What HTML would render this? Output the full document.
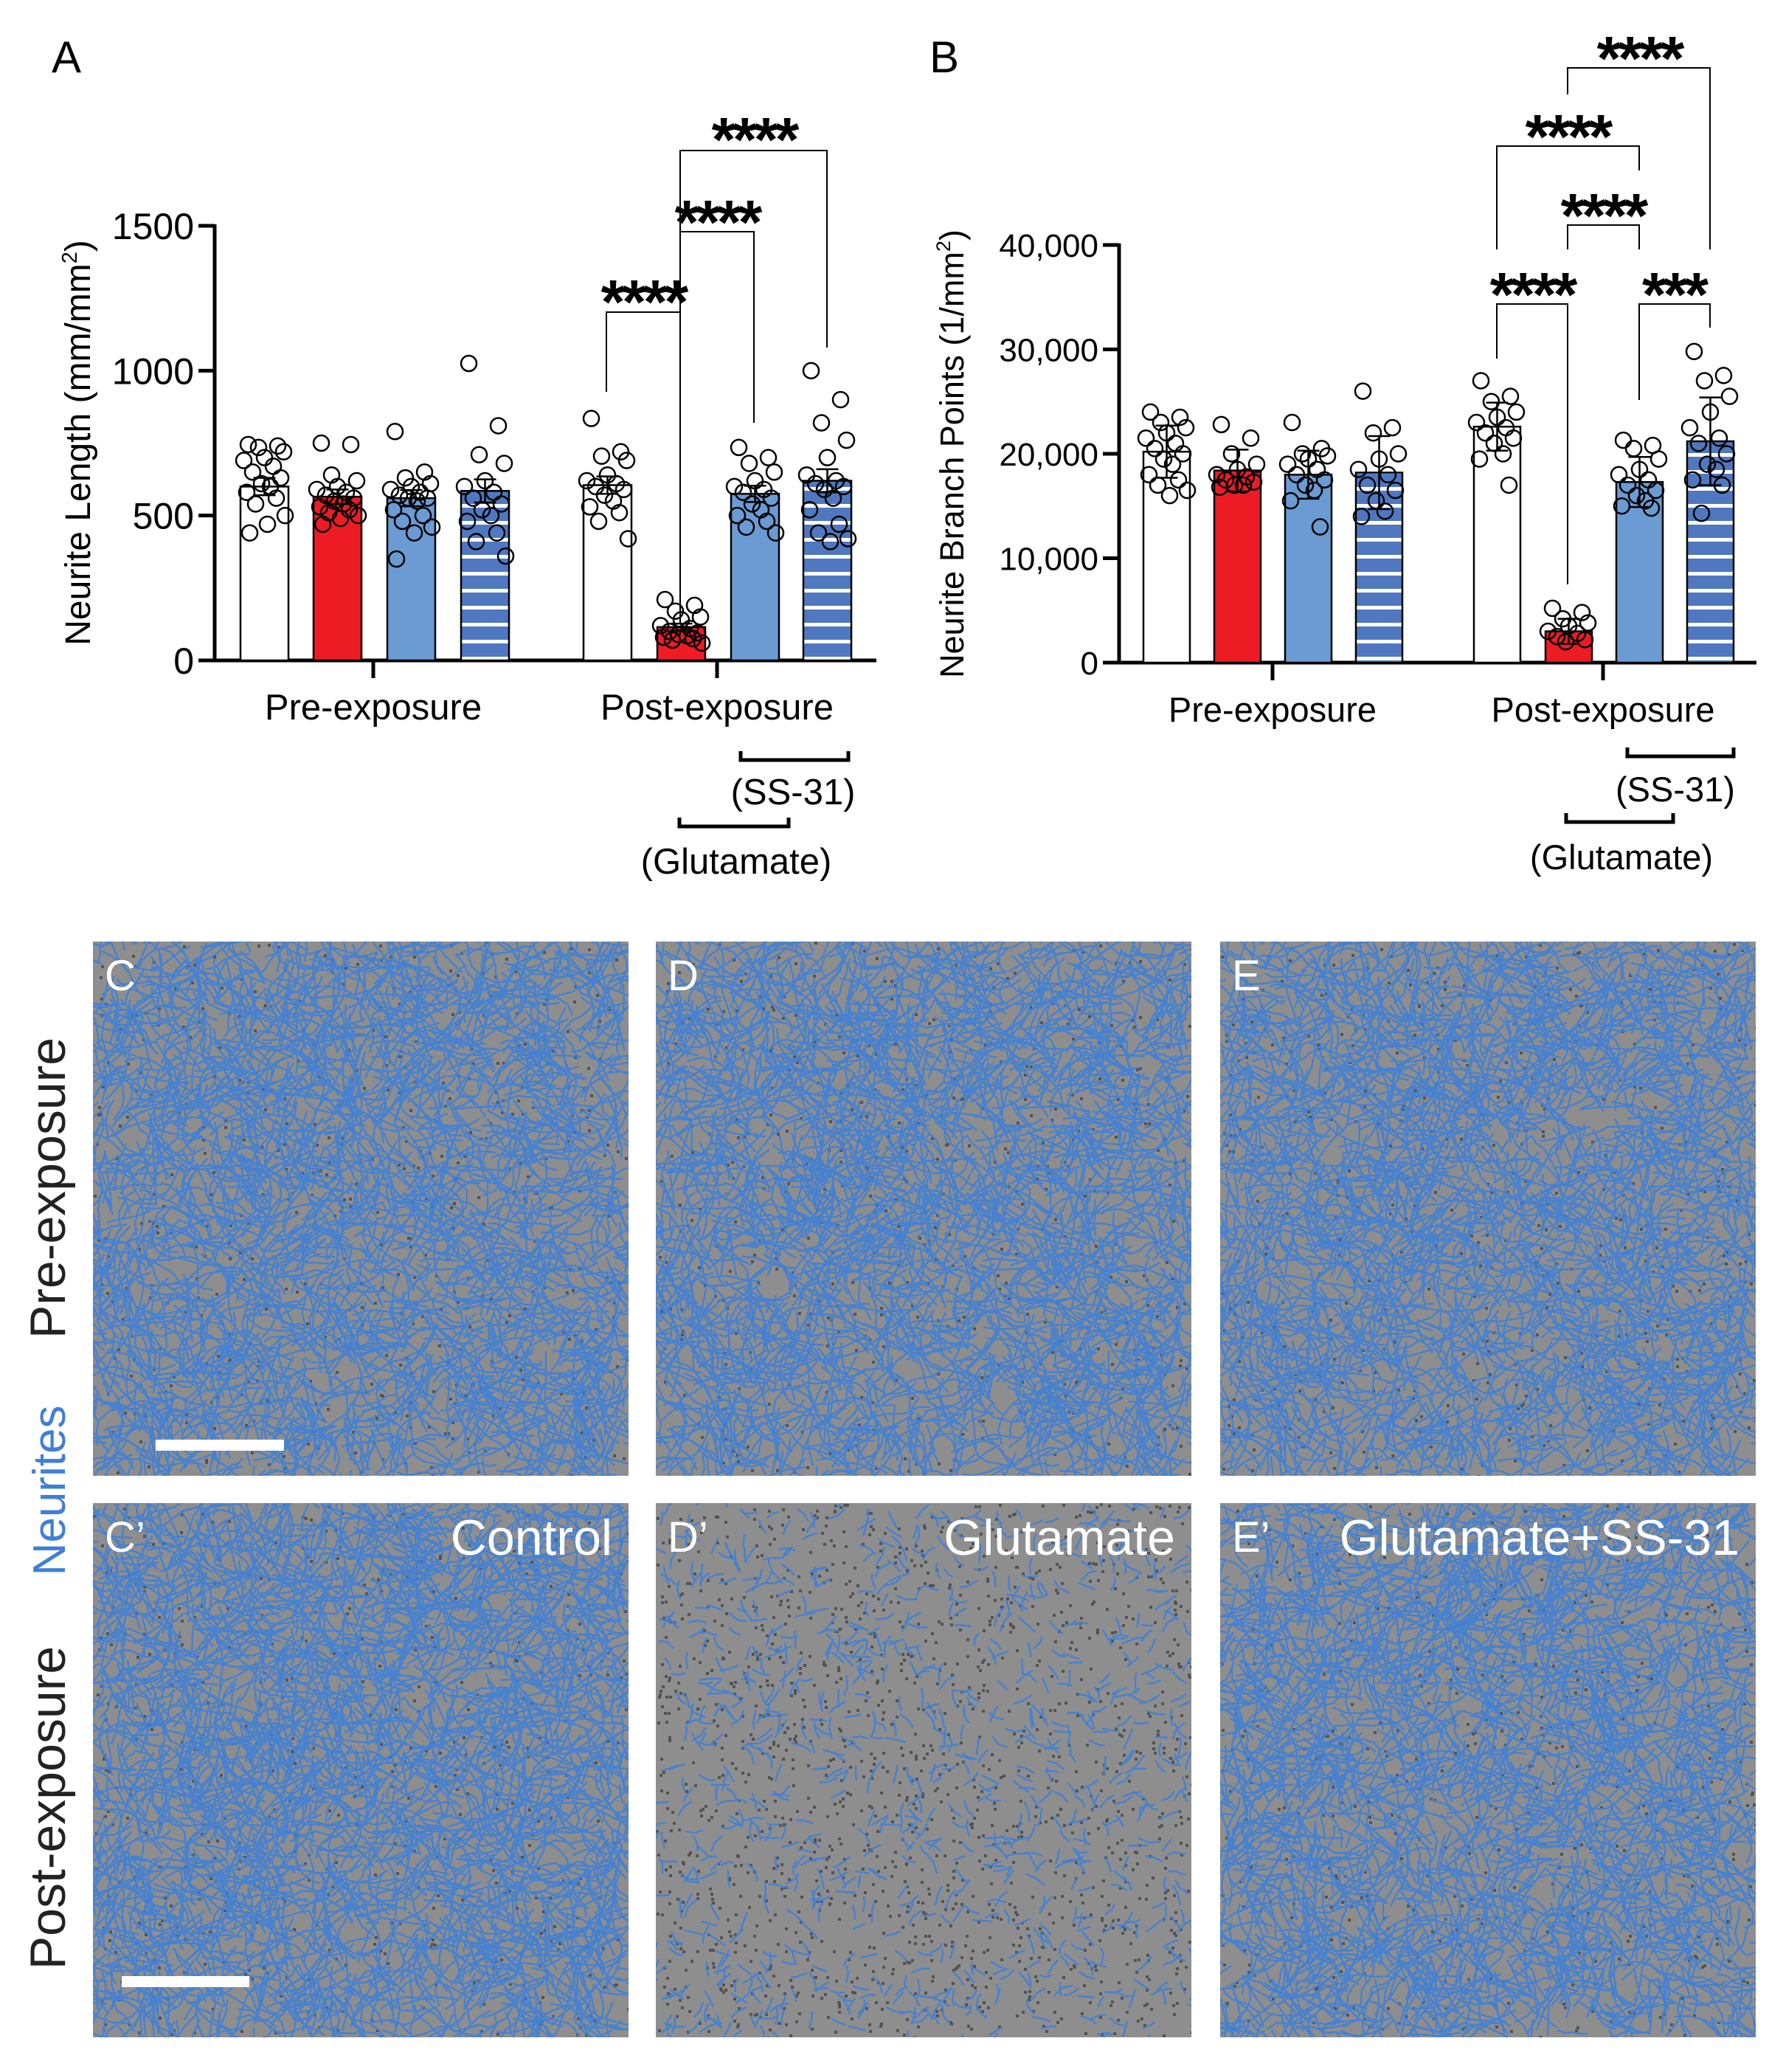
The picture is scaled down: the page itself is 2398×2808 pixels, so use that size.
<!DOCTYPE html>
<html><head><meta charset="utf-8"><style>
html,body{margin:0;padding:0;background:#fff;}
svg{display:block;font-family:"Liberation Sans",Arial,sans-serif;}
</style></head><body>
<svg id="fig" width="2398" height="2808" viewBox="0 0 2398 2808" xmlns="http://www.w3.org/2000/svg">
<defs>
<pattern id="stripes" patternUnits="userSpaceOnUse" width="10" height="23" y="0">
<rect width="10" height="23" fill="#4f78c0"/><rect y="16" width="10" height="5" fill="#fff"/>
</pattern>
</defs>
<g id="chartA"></g>
<g id="chartB"></g>
<g id="micro"></g>
</svg>
<script>
// ---------- Data ----------
const groupLabels = ["Pre-exposure","Post-exposure"];
const fillTypes = ["white","red","blue","stripe","white","red","blue","stripe"];
const aMeans = [600,565,560,585,605,115,575,620];
const aErrs = [30,25,28,40,30,12,28,40];
const aTicks = [0,500,1000,1500];
const aPoints = [
 [745,740,735,720,700,690,670,650,630,610,600,580,560,540,500,470,440],
 [750,745,640,620,600,590,580,570,560,550,540,530,520,510,500,490,470],
 [790,650,630,610,600,590,580,570,560,560,550,520,500,480,460,440,350],
 [1025,810,710,680,620,600,580,560,540,520,500,480,440,410,360],
 [835,720,705,690,640,620,610,600,590,570,550,530,510,480,420],
 [210,190,170,150,140,120,110,100,95,90,85,80,75,70,60],
 [735,700,680,650,620,600,590,580,560,540,520,500,480,460,440],
 [1000,900,820,760,700,640,620,610,600,590,560,520,470,440,420,410]
];
const bMeans = [20200,18400,18000,18200,22600,3000,17300,21200];
const bErrs = [2500,2000,2300,3500,2300,1200,2400,4200];
const bTicks = [0,10000,20000,30000,40000];
const bTickLabels = ["0","10,000","20,000","30,000","40,000"];
const bPoints = [
 [24000,23500,23000,22500,22000,21500,21000,20500,20000,19500,19000,18000,17500,17000,16500,16000],
 [22800,21500,20000,19000,18500,18000,17800,17500,17300,17000,17000,16800],
 [23000,20500,20000,19800,19500,19000,18500,18000,17500,17000,16500,15500,13000],
 [26000,22500,22000,20000,19500,18500,18000,17000,16500,15500,14500,14000],
 [27000,25500,25000,24000,23500,23000,22500,22000,21500,21000,20000,19500,17000],
 [5200,4800,4200,3800,3500,3000,2800,2500,2200,2000],
 [21300,20800,20500,19500,18500,18000,17500,17000,16500,16000,15500,15000,14800],
 [29800,27500,27000,25500,24000,22500,21500,21000,20000,19000,18500,17500,17000,14300]
];

const NS="http://www.w3.org/2000/svg";
function mk(parent,tag,attrs,text){const e=document.createElementNS(NS,tag);for(const k in attrs)e.setAttribute(k,attrs[k]);if(text!==undefined)e.textContent=text;parent.appendChild(e);return e;}
const fillColor={white:"#fff",red:"#ed1c24",blue:"#6b9bd3",stripe:"url(#stripes)"};
const jit=[-22,18,-8,26,0,-28,12,-16,22,-4,8,-24,16,-12,28,4,-20];

function drawChart(g,cfg){
  const y=v=>cfg.y0-(v/cfg.max)*(cfg.y0-cfg.yTop);
  const bx=i=>cfg.barX[i];
  let e=mk(g,"line",{x1:cfg.axX,y1:y(cfg.max)-2,x2:cfg.axX,y2:cfg.y0+2,stroke:"#000","stroke-width":5});
  
  e=mk(g,"line",{x1:cfg.axX-2,y1:cfg.y0,x2:cfg.axEnd,y2:cfg.y0,stroke:"#000","stroke-width":5});
  
  cfg.ticks.forEach((t,i)=>{
    const l=mk(g,"line",{x1:cfg.axX-22,y1:y(t),x2:cfg.axX,y2:y(t),stroke:"#000","stroke-width":5});
    
    const tx=mk(g,"text",{x:cfg.axX-28,y:y(t)+cfg.tickFs*0.36,"text-anchor":"end","font-size":cfg.tickFs},cfg.tickLabels[i]);
    
  });
  cfg.means.forEach((m,i)=>{
    const r=mk(g,"rect",{x:bx(i),y:y(m),width:cfg.bw,height:cfg.y0-y(m),fill:fillColor[fillTypes[i]],stroke:"#000","stroke-width":2.5});
    
    const cx=bx(i)+cfg.bw/2;
    const eb=mk(g,"path",{d:`M${cx} ${y(m-cfg.errs[i])}V${y(m+cfg.errs[i])}M${cx-15} ${y(m+cfg.errs[i])}H${cx+15}M${cx-15} ${y(m-cfg.errs[i])}H${cx+15}`,stroke:"#000","stroke-width":2.5,fill:"none"});
    
    cfg.points[i].forEach((p,k)=>{
      const c=mk(g,"circle",{cx:cx+jit[k%jit.length],cy:y(p),r:10.5,fill:"none",stroke:"#000","stroke-width":2.5});
      
    });
  });
  cfg.groupX.forEach((gx,i)=>{
    const l=mk(g,"line",{x1:gx,y1:cfg.y0,x2:gx,y2:cfg.y0+24,stroke:"#000","stroke-width":5});
    
    const t=mk(g,"text",{x:gx,y:cfg.y0+80,"text-anchor":"middle","font-size":cfg.labFs},groupLabels[i]);
    
  });
  const yt=mk(g,"text",{x:0,y:0,"text-anchor":"middle","font-size":cfg.titleFs,transform:`translate(${cfg.titleX},${cfg.titleY}) rotate(-90)`});
  
  mk(yt,"tspan",{},cfg.title);mk(yt,"tspan",{"font-size":cfg.titleFs*0.6,dy:-18},"2");mk(yt,"tspan",{dy:18},")");
  const pl=mk(g,"text",{x:cfg.letterX,y:98,"font-size":60},cfg.letter);
  
  cfg.sig.forEach(s=>{
    const p=mk(g,"path",{d:s.d,stroke:"#000","stroke-width":2,fill:"none"});
    
    const t=mk(g,"text",{x:s.tx,y:s.ty+30,"text-anchor":"middle","font-size":84,"font-weight":"bold","letter-spacing":"-4"},s.stars);
    
  });
  cfg.treat.forEach(s=>{
    const p=mk(g,"path",{d:`M${s.x1} ${s.y-12}V${s.y}H${s.x2}V${s.y-12}`,stroke:"#000","stroke-width":5,fill:"none"});
    
    const t=mk(g,"text",{x:s.tx,y:s.ty,"text-anchor":"middle","font-size":cfg.labFs},s.label);
    
  });
}

drawChart(document.getElementById("chartA"),{
  y0:895,yTop:306,max:1500,axX:291,axEnd:1188,bw:65,tickFs:50,labFs:49,titleFs:48,
  barX:[326,425,525,625,791,891,991,1089],groupX:[506,972],
  means:aMeans,errs:aErrs,points:aPoints,ticks:aTicks,tickLabels:aTicks.map(String),
  title:"Neurite Length (mm/mm",titleX:122,titleY:600,letter:"A",letterX:70,
  sig:[
   {d:"M822 531V423H922V846",tx:872,ty:408,stars:"****"},
   {d:"M922 423V314H1022V573",tx:972,ty:300,stars:"****"},
   {d:"M922 314V204H1121V471",tx:1022,ty:188,stars:"****"}
  ],
  treat:[{x1:1004,x2:1150,y:1030,tx:1075,ty:1090,label:"(SS-31)"},{x1:921,x2:1069,y:1120,tx:998,ty:1184,label:"(Glutamate)"}]
});
drawChart(document.getElementById("chartB"),{
  y0:898,yTop:332,max:40000,axX:1517,axEnd:2381,bw:63,tickFs:44,labFs:47,titleFs:45,
  barX:[1550,1646,1742,1838,1998,2095,2191,2287],groupX:[1725,2173],
  means:bMeans,errs:bErrs,points:bPoints,ticks:bTicks,tickLabels:bTickLabels,
  title:"Neurite Branch Points (1/mm",titleX:1306,titleY:615,letter:"B",letterX:1260,
  sig:[
   {d:"M2029 486V412H2125V792",tx:2077,ty:398,stars:"****"},
   {d:"M2222 542V412H2318V444",tx:2269,ty:398,stars:"***"},
   {d:"M2125 338V305H2222V338",tx:2173,ty:291,stars:"****"},
   {d:"M2029 338V198H2222V231",tx:2125,ty:184,stars:"****"},
   {d:"M2125 128V92H2318V338",tx:2222,ty:78,stars:"****"}
  ],
  treat:[{x1:2206,x2:2350,y:1025,tx:2271,ty:1086,label:"(SS-31)"},{x1:2123,x2:2268,y:1114,tx:2198,ty:1178,label:"(Glutamate)"}]
});

// ---------- Micrographs (decorative texture) ----------
const M=document.getElementById("micro");
let seed=12345;function rnd(){seed=(seed*1103515245+12345)&0x7fffffff;return seed/0x7fffffff;}
const panels=[
 {x:126,y:1276,lab:"C",name:"panel-c",dens:0.85},
 {x:889,y:1276,lab:"D",name:"panel-d",dens:0.85},
 {x:1654,y:1276,lab:"E",name:"panel-e",dens:0.85},
 {x:126,y:2037,lab:"C\u2019",name:"panel-c-prime",dens:0.9,cap:"Control"},
 {x:889,y:2037,lab:"D\u2019",name:"panel-d-prime",dens:0.35,cap:"Glutamate"},
 {x:1654,y:2037,lab:"E\u2019",name:"panel-e-prime",dens:0.8,cap:"Glutamate+SS-31"}
];
const W=726,H=724;
panels.forEach((p,pi)=>{
  const g=mk(M,"g",{});
  
  const cp=mk(g,"clipPath",{id:"cp"+pi});
  mk(cp,"rect",{x:p.x,y:p.y,width:W,height:H});
  mk(g,"rect",{x:p.x,y:p.y,width:W,height:H,fill:"#8e8e8e"});
  const inner=mk(g,"g",{"clip-path":`url(#cp${pi})`});
  let dd="";
  const nd=p.dens<0.5?1400:500;
  for(let i=0;i<nd;i++){const x=p.x+rnd()*W,y=p.y+rnd()*H;dd+=`M${x.toFixed(0)} ${y.toFixed(0)}h4v4h-4z`;}
  mk(inner,"path",{d:dd,fill:"#3a3a3a",opacity:0.7});
  let d="";
  const n=Math.round(2600*p.dens);
  for(let i=0;i<n;i++){
    let x=p.x+rnd()*W,y=p.y+rnd()*H;d+=`M${x.toFixed(0)} ${y.toFixed(0)}`;
    let a=rnd()*6.283;
    const segs=p.dens<0.5?2:4;
    for(let s=0;s<segs;s++){a+=(rnd()-0.5)*1.2;const L=p.dens<0.5?8+rnd()*8:10+rnd()*14;x+=Math.cos(a)*L;y+=Math.sin(a)*L;d+=`L${x.toFixed(0)} ${y.toFixed(0)}`;}
  }
  mk(inner,"path",{d:d,stroke:"#3f7fd6","stroke-width":2.4,fill:"none",opacity:0.9});
  const t=mk(g,"text",{x:p.x+16,y:p.y+66,"font-size":58,fill:"#fff"},p.lab);
  
  if(p.cap){const c=mk(g,"text",{x:p.x+W-22,y:p.y+70,"font-size":68,fill:"#fff","text-anchor":"end"},p.cap);
    }
});
let sb=mk(M,"rect",{x:211,y:1951,width:174,height:15,fill:"#fff"});

sb=mk(M,"rect",{x:165,y:2678,width:173,height:15,fill:"#fff"});

[["Pre-exposure",1610,"#222","row-label-pre",68],["Neurites",2020,"#3f7fd6","row-label-neurites",62],["Post-exposure",2450,"#222","row-label-post",68]].forEach(r=>{
  const t=mk(M,"text",{x:0,y:0,"text-anchor":"middle","font-size":r[4],fill:r[2],transform:`translate(88,${r[1]}) rotate(-90)`},r[0]);
  
});
</script>
</body></html>
